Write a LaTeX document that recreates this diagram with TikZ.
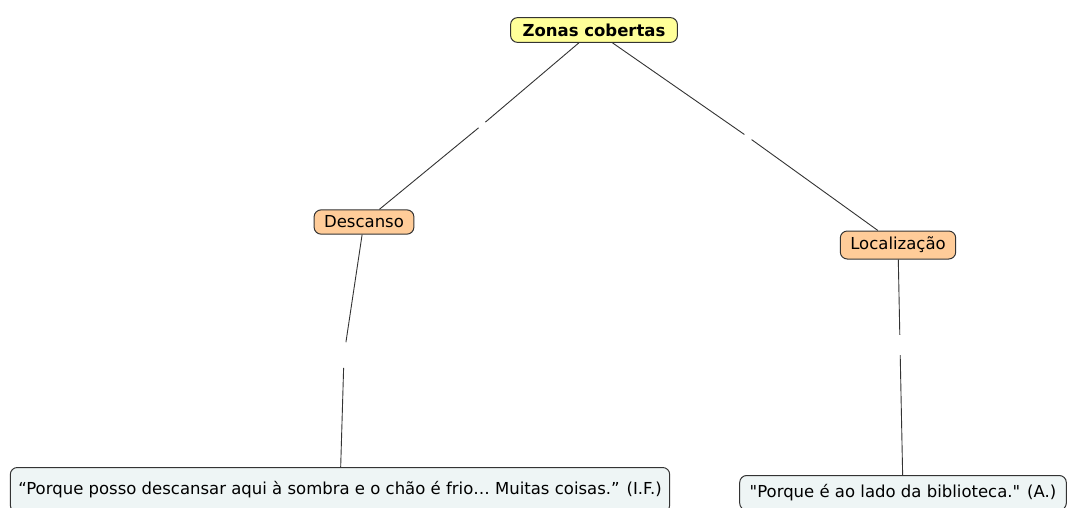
\documentclass[tikz,border=0pt]{standalone}
\usepackage{fontspec}
\setmainfont{DejaVu Sans}
\usetikzlibrary{positioning}
\definecolor{topfill}{HTML}{FFFF99}
\definecolor{subfill}{HTML}{FFCC99}
\definecolor{quotefill}{HTML}{EEF5F5}
\definecolor{edgegray}{HTML}{333333}

\begin{document}
\begin{tikzpicture}[x=1pt,y=-1pt,
  concept/.style={draw=edgegray, line width=1pt, rounded corners=7pt,
    inner xsep=10pt, inner ysep=6pt, font=\fontsize{16.5}{19}\selectfont},
  topic/.style={concept, fill=topfill, inner xsep=12pt, font=\fontsize{16.5}{19}\selectfont\bfseries},
  sub/.style={concept, fill=subfill},
  quote/.style={concept, fill=quotefill, anchor=north},
  link/.style={circle, inner sep=3pt},
  conn/.style={draw=edgegray, line width=0.9pt}]
  \useasboundingbox (0,0) rectangle (1067,507);

  %% concepts
  \node[topic] (zonas) at (594,30) {Zonas cobertas};
  \node[sub] (descanso) at (364,222) {Descanso};
  \node[sub] (local) at (898,245) {Localização};
  \node[quote, inner ysep=14pt, inner xsep=8pt] (qleft) at (340,467) {“Porque posso descansar aqui à sombra e o chão é frio… Muitas coisas.” (I.F.)};
  \node[quote, inner ysep=9pt] (qright) at (903,475) {\textquotedbl Porque é ao lado da biblioteca.\textquotedbl{} (A.)};

  %% empty linking phrases
  \node[link] (l1) at (482,125) {};
  \node[link] (l2) at (748,137) {};
  \node[link, inner sep=9pt] (l3) at (344,355) {};
  \node[link, inner sep=7pt] (l4) at (900,345) {};

  %% connectors
  \draw[conn] (zonas) -- (l1) -- (descanso);
  \draw[conn] (zonas) -- (l2) -- (local);
  \draw[conn] (descanso) -- (l3) -- (qleft);
  \draw[conn] (local) -- (l4) -- (qright);
\end{tikzpicture}
\end{document}
